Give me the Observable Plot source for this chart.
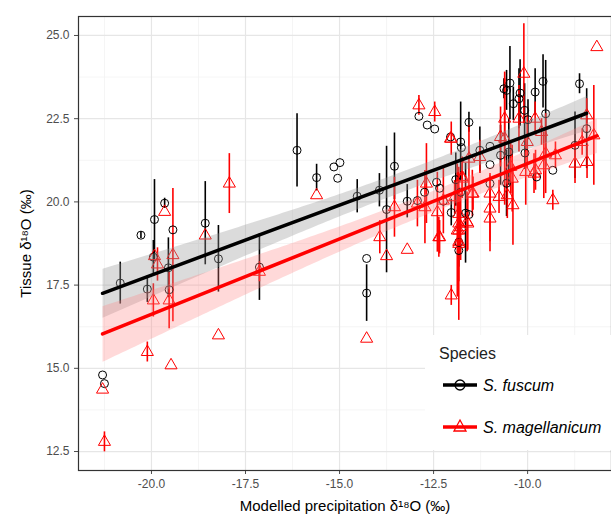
<!DOCTYPE html>
<html>
<head>
<meta charset="utf-8">
<script src="https://cdn.jsdelivr.net/npm/d3@7"></script>
<script src="https://cdn.jsdelivr.net/npm/@observablehq/plot@0.6"></script>
<style>
  body { margin: 0; background: #fff; font-family: "Liberation Sans", Arial, sans-serif; }
  #wrap { position: relative; width: 611px; height: 518px; overflow: hidden; }
  #legend { position: absolute; left: 425px; top: 335px; width: 200px; height: 115px; background: #fff; }
</style>
</head>
<body>
<div id="wrap">
  <div id="plot-region"></div>
  <div id="legend">
    <svg width="200" height="115">
      <text x="14" y="24" font-size="16" fill="#222">Species</text>
      <line x1="18" x2="52" y1="50" y2="50" stroke="#000" stroke-width="3.5"/>
      <circle cx="35" cy="50" r="5" fill="none" stroke="#000" stroke-width="1.3"/>
      <text x="58" y="56" font-size="16" font-style="italic">S. fuscum</text>
      <line x1="18" x2="52" y1="92" y2="92" stroke="#f00" stroke-width="3.5"/>
      <path d="M35,85 L41,96 L29,96 Z" fill="none" stroke="#f00" stroke-width="1.3"/>
      <text x="58" y="98" font-size="16" font-style="italic">S. magellanicum</text>
    </svg>
  </div>
</div>
<script>
// S. fuscum: precipitation d18O, tissue d18O, error half-width
const fuscumX = [-20.83,-21.3,-21.25,-20.28,-19.92,-19.65,-19.43,-19.95,-20.11,-19.55,-19.53,-18.57,-18.22,-17.13,
  -16.13,-15.61,-15.15,-14.99,-15.05,-14.53,-13.94,-13.75,-13.54,-13.2,-14.28,-14.28,-12.89,-12.67,-12.47,-12.93,
  -12.74,-12.42,-12.34,-12.24,-12.03,-12.05,-11.78,-11.76,-11.56,-11.91,-11.78,-11.83,-11.83,-11.65,-11.56,
  -11.27,-11.0,-11.0,-11.0,-10.72,-10.63,-10.56,-10.47,-10.38,-10.23,-10.2,-10.08,-9.99,-10.5,-10.07,-10.56,
  -9.8,-9.59,-9.52,-9.76,-9.33,-8.62,-8.43,-8.74];
const fuscumY = [17.56,14.8,14.54,19.0,19.47,19.96,19.16,18.34,17.38,18.02,17.36,19.36,18.29,18.04,
  21.55,20.73,21.05,21.18,20.71,20.17,20.35,19.77,21.07,20.02,18.3,17.26,22.57,22.31,22.19,20.04,
  20.29,20.59,20.41,20.02,19.68,21.95,21.8,21.63,22.39,20.67,20.29,18.79,18.54,19.66,19.62,
  21.55,21.67,21.12,20.55,21.4,23.4,23.35,23.57,22.95,23.1,23.27,22.75,22.47,21.5,21.47,20.56,
  23.3,23.62,22.65,20.75,20.95,23.55,22.2,21.7];
const fuscumErr = [0.63,0,0,0.1,1.2,0.15,0,0.5,0.4,0.9,0,1.25,1.0,1.0,
  1.1,0.4,0,0,0,0.5,0.5,1.9,1.0,0.5,0,0.85,0,0,0,0,
  0,0,0,0,0.4,0,1.2,0,0.3,0.8,0,0.3,0.5,1.5,0,
  0.7,0,0,0,0.9,0.3,0.6,1.1,0.5,0.9,1.0,0.8,0.6,1.0,0.5,1.0,
  0.7,0.8,1.6,0,0,0.3,1.2,1.0];

// S. magellanicum
const magX = [-17.93,-19.65,-19.43,-19.92,-19.84,-18.57,-19.95,-19.53,-17.13,-18.22,-20.11,-19.48,-21.3,-21.25,
  -15.61,-13.93,-13.75,-13.2,-14.28,-12.89,-12.47,-12.05,-13.54,-12.93,-12.69,-12.73,-12.4,-12.34,-12.03,-11.83,
  -11.87,-11.78,-11.94,-11.74,-11.59,-11.45,-8.16,-10.1,-10.61,-10.23,-9.8,-9.63,-8.43,-8.24,-8.55,-8.74,-8.42,
  -9.26,-9.57,-9.33,-9.79,-10.05,-10.45,-10.41,-10.39,-10.54,-10.76,-11.0,-11.0,-11.0,-11.47,-11.27,-11.56,-11.74,
  -12.24,-12.36,-12.03,-11.83,-11.83,-11.83,-11.83,-11.61,-10.72,-10.61,-10.01,-9.83,-9.52];
const magY = [20.55,19.7,18.4,18.37,18.12,18.99,17.04,17.04,17.9,15.99,15.49,15.09,14.36,12.79,
  20.2,18.94,18.37,18.56,15.89,22.9,22.7,21.9,19.84,19.95,20.55,19.84,19.69,18.94,17.19,18.74,
  19.14,19.24,20.14,20.7,19.35,20.25,24.65,23.85,22.5,22.5,22.5,22.1,22.6,22.0,21.8,21.15,21.2,
  21.4,21.1,20.05,20.95,20.9,21.05,20.7,19.9,20.2,20.15,20.25,19.8,19.5,20.25,21.35,21.3,20.75,
  20.04,18.94,21.9,19.64,19.35,19.14,18.8,19.4,21.95,21.9,21.8,20.85,21.45];
const magErr = [0.9,0,2.0,0,0.5,0,0.5,0.85,0.3,0,0.3,0,0,0.3,
  0,0.5,0,0,0,0.3,0.3,0,0.9,0.7,1.2,1.1,1.2,0.5,0.3,2.3,
  2.0,1.0,0.5,0.6,0.8,0.5,0,1.5,1.2,1.0,0.5,0.4,0.5,1.5,0.4,0.6,0.5,
  0.4,1.0,0.3,0.6,1.0,0.8,1.0,1.2,0.7,0.5,0.6,1.0,1.0,0.7,0.5,1.0,0.6,
  1.0,0.6,0.5,0.8,0.8,0.8,1.2,0.9,0.9,2.0,0.8,0.6,1.2];

const xTicks = [-20, -17.5, -15, -12.5, -10];
const yTicks = [12.5, 15, 17.5, 20, 22.5, 25];
const xMinor = [-21.25, -18.75, -16.25, -13.75, -11.25, -8.75];
const yMinor = [13.75, 16.25, 18.75, 21.25, 23.75];

const toRows = (xs, ys, es) => xs.map((x, i) => ({ x, y: ys[i], lo: ys[i] - es[i], hi: ys[i] + es[i], err: es[i] }));
const fuscum = toRows(fuscumX, fuscumY, fuscumErr);
const mag = toRows(magX, magY, magErr);

const chart = Plot.plot({
  width: 611,
  height: 518,
  marginLeft: 78,
  marginTop: 16,
  marginBottom: 48,
  marginRight: 0,
  style: { fontFamily: "Liberation Sans, Arial, sans-serif", fontSize: "12px", color: "#4d4d4d" },
  x: { domain: [-21.94, -7.77], ticks: xTicks, tickFormat: d => d.toFixed(1), label: "Modelled precipitation δ¹⁸O (‰)", labelAnchor: "center", labelArrow: "none", labelOffset: 40, tickSize: 4 },
  y: { domain: [11.93, 25.57], ticks: yTicks, tickFormat: d => d.toFixed(1), label: "Tissue δ¹⁸O (‰)", labelAnchor: "center", labelOffset: 58, labelArrow: "none", tickSize: 4 },
  marks: [
    Plot.ruleX(xMinor, { stroke: "#f2f2f2", strokeWidth: 0.8 }),
    Plot.ruleY(yMinor, { stroke: "#f2f2f2", strokeWidth: 0.8 }),
    Plot.ruleX(xTicks, { stroke: "#e6e6e6", strokeWidth: 1.2 }),
    Plot.ruleY(yTicks, { stroke: "#e6e6e6", strokeWidth: 1.2 }),
    Plot.ruleX(fuscum.filter(d => d.err > 0), { x: "x", y1: "lo", y2: "hi", stroke: "#000", strokeWidth: 1.6 }),
    Plot.ruleX(mag.filter(d => d.err > 0), { x: "x", y1: "lo", y2: "hi", stroke: "#f00", strokeWidth: 1.6 }),
    Plot.dot(fuscum, { x: "x", y: "y", r: 4, symbol: "circle", stroke: "#000", fill: "none", strokeWidth: 1 }),
    Plot.dot(mag, { x: "x", y: "y", r: 4.5, symbol: "triangle", stroke: "#f00", fill: "none", strokeWidth: 1 }),
    Plot.linearRegressionY(fuscum, { x: "x", y: "y", stroke: "#000", strokeWidth: 3.5, fill: "#999", fillOpacity: 0.35, ci: 0.95 }),
    Plot.linearRegressionY(mag, { x: "x", y: "y", stroke: "#f00", strokeWidth: 3.5, fill: "#ff8080", fillOpacity: 0.3, ci: 0.95 }),
    Plot.frame({ stroke: "#333", strokeWidth: 1.2 })
  ]
});

chart.querySelectorAll('[aria-label="x-axis label"] text, [aria-label="y-axis label"] text').forEach(t => {
  t.style.fontSize = "15px";
  t.style.fill = "#000";
});

document.getElementById("plot-region").append(chart);
</script>
</body>
</html>
